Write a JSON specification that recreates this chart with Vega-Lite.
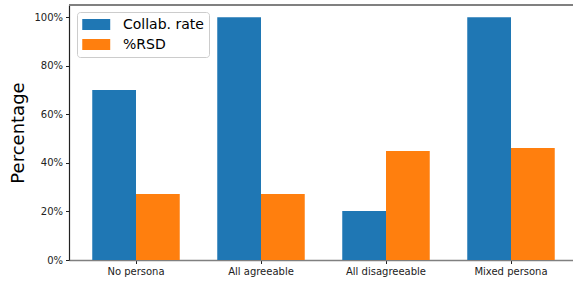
{
  "$schema": "https://vega.github.io/schema/vega-lite/v6.json",
  "width": 504,
  "height": 255,
  "autosize": {"type": "none"},
  "padding": {"left": 69, "top": 5, "right": 0, "bottom": 22},
  "config": {"view": {"stroke": null}, "font": "DejaVu Sans"},
  "data": {
    "values": [
      {"condition": "No persona", "series": "Collab. rate", "value": 70},
      {"condition": "No persona", "series": "%RSD", "value": 27.2},
      {"condition": "All agreeable", "series": "Collab. rate", "value": 100},
      {"condition": "All agreeable", "series": "%RSD", "value": 27.2},
      {"condition": "All disagreeable", "series": "Collab. rate", "value": 20.2},
      {"condition": "All disagreeable", "series": "%RSD", "value": 44.9},
      {"condition": "Mixed persona", "series": "Collab. rate", "value": 100},
      {"condition": "Mixed persona", "series": "%RSD", "value": 46.1}
    ]
  },
  "layer": [
    {
      "mark": {"type": "bar"},
      "encoding": {
        "x": {
          "field": "condition",
          "type": "nominal",
          "scale": {
            "domain": ["No persona", "All agreeable", "All disagreeable", "Mixed persona"],
            "range": [0, 509],
            "paddingInner": 0,
            "paddingOuter": 0.036
          },
          "axis": {
            "title": null,
            "labelAngle": 0,
            "labelFontSize": 10,
            "labelColor": "#222222",
            "labelPadding": 3,
            "tickSize": 3.5,
            "tickColor": "#222222",
            "domainColor": "#808080",
            "domainWidth": 1.5
          }
        },
        "xOffset": {
          "field": "series",
          "type": "nominal",
          "scale": {"domain": ["Collab. rate", "%RSD"], "paddingInner": 0, "paddingOuter": 0.4286}
        },
        "y": {
          "field": "value",
          "type": "quantitative",
          "scale": {"domain": [0, 105], "nice": false},
          "axis": {
            "values": [0, 20, 40, 60, 80, 100],
            "labelExpr": "datum.value + '%'",
            "grid": false,
            "title": "Percentage",
            "titleFontSize": 18,
            "titleFontWeight": "normal",
            "titleColor": "#000000",
            "titlePadding": 6,
            "labelFontSize": 10,
            "labelColor": "#222222",
            "labelPadding": 3,
            "tickSize": 3.5,
            "tickColor": "#222222",
            "domainColor": "#222222",
            "domainWidth": 1.2
          }
        },
        "color": {
          "field": "series",
          "type": "nominal",
          "scale": {"domain": ["Collab. rate", "%RSD"], "range": ["#1f77b4", "#ff7f0e"]},
          "legend": {
            "orient": "none",
            "legendX": 8,
            "legendY": 7,
            "title": null,
            "symbolType": "M-1,-0.76H2.86V0.76H-1Z",
            "symbolSize": 210,
            "symbolStrokeWidth": 0,
            "symbolOpacity": 1,
            "labelFontSize": 14,
            "labelColor": "#000000",
            "labelOffset": 26,
            "rowPadding": 5,
            "strokeColor": "#cccccc",
            "fillColor": "#ffffff",
            "padding": 5,
            "cornerRadius": 3
          }
        }
      }
    },
    {
      "mark": {"type": "rule", "color": "#808080", "strokeWidth": 1.5},
      "encoding": {"y": {"datum": 105}}
    }
  ]
}
